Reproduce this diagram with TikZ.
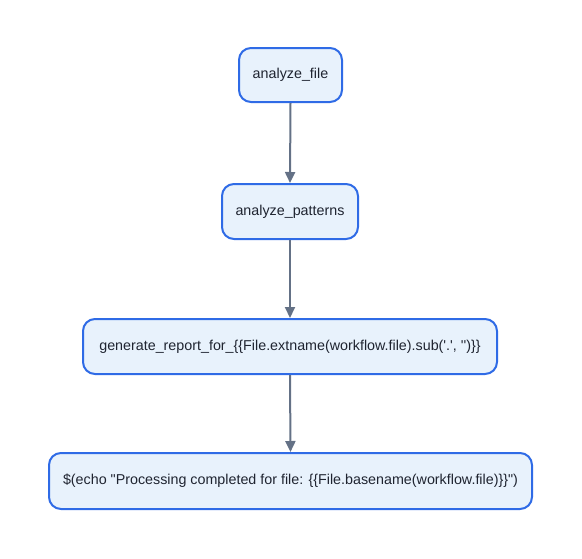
\documentclass[tikz,border=0pt]{standalone}
\usepackage{fontspec}
\setmainfont{Liberation Sans}
\font\labfont="Liberation Sans" at 14.3pt
\usetikzlibrary{arrows.meta}
\definecolor{boxline}{HTML}{2F6BE6}
\definecolor{boxfill}{HTML}{E8F2FC}
\definecolor{arrowc}{HTML}{647186}
\definecolor{txt}{HTML}{1F2430}
\tikzset{
  stepbox/.style={draw=boxline, fill=boxfill, line width=2pt, rounded corners=12pt,
    text=txt, font=\labfont, inner sep=0pt, align=center},
  flow/.style={draw=arrowc, line width=2pt, -{Triangle[length=11pt,width=10pt]}}
}
\begin{document}
\begin{tikzpicture}[x=1pt,y=-1pt]
\useasboundingbox (0,0) rectangle (582,558);
\node[stepbox, minimum width=103pt, minimum height=54pt] (a) at (290.5,75) {analyze\_file};
\node[stepbox, minimum width=136pt, minimum height=55pt] (b) at (290,211.5) {analyze\_patterns};
\node[stepbox, minimum width=414pt, minimum height=55pt] (c) at (290,346.5) {generate\_report\_for\_\{\{File.extname(workflow.file).sub('.', '')\}\}};
\node[stepbox, minimum width=483pt, minimum height=56pt] (d) at (290.5,481) {\$(echo "Processing completed for file: \{\{File.basename(workflow.file)\}\}")};
\draw[flow] (a.south) -- (b.north);
\draw[flow] (b.south) -- (c.north);
\draw[flow] (c.south) -- (d.north);
\end{tikzpicture}
\end{document}
